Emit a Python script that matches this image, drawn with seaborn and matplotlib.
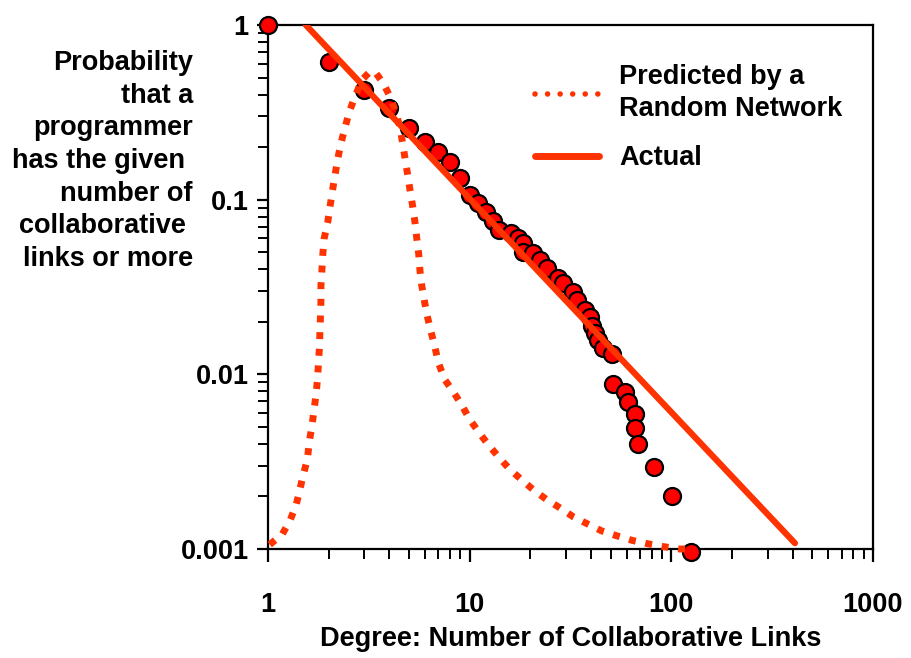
import numpy as np
import pandas as pd
import matplotlib
matplotlib.use("Agg")
import matplotlib.pyplot as plt
from matplotlib.lines import Line2D
import seaborn as sns

# ---- data ----
degree = [1, 2, 3, 4, 5, 6, 7, 8, 9, 10, 11, 12, 13, 14, 16, 17.4, 18.4, 18.4,
          20.7, 22.3, 24.1, 27.5, 29.1, 32.6, 33.9, 37.3, 39.5, 40.3, 41.8, 43.4,
          45.9, 50.6, 51.5, 59, 61, 66, 66, 68, 82, 101, 125]
prob = [1.0, 0.614, 0.425, 0.333, 0.256, 0.215, 0.188, 0.164, 0.133, 0.106,
        0.0954, 0.0854, 0.0759, 0.067, 0.0642, 0.0604, 0.0565, 0.0504, 0.0493,
        0.0452, 0.0405, 0.0355, 0.0332, 0.0297, 0.0267, 0.0234, 0.0214, 0.0188,
        0.0172, 0.0157, 0.0141, 0.0131, 0.0088, 0.00796, 0.0069, 0.00593, 0.0049,
        0.004, 0.00296, 0.002, 0.00096]

pred_x = [1.02, 1.18, 1.29, 1.38, 1.44, 1.50, 1.57, 1.60, 1.65, 1.69, 1.73, 1.76,
          1.78, 1.80, 1.81, 1.82, 1.83, 1.83, 1.85, 1.87, 1.90, 1.98, 2.03, 2.09,
          2.15, 2.22, 2.30, 2.41, 2.53, 2.70, 2.92, 3.20, 3.39, 3.73, 4.03, 4.26,
          4.51, 4.65, 4.78, 4.93, 5.06, 5.22, 5.36, 5.46, 5.59, 5.67, 5.78, 5.96,
          6.16, 6.43, 6.73, 6.99, 7.54, 8.29, 9.13, 10.0, 11.1, 12.4, 14.0, 15.8,
          18.1, 20.7, 23.9, 27.8, 32.6, 38.5, 45.1, 53.6, 64.0, 76.8, 92.2, 110, 131]
pred_y = [0.00106, 0.00122, 0.00147, 0.00179, 0.0022, 0.00269, 0.00329, 0.00408,
          0.00502, 0.0062, 0.00765, 0.0094, 0.01167, 0.0144, 0.0178, 0.0214,
          0.0261, 0.0321, 0.0392, 0.0487, 0.0601, 0.0748, 0.0912, 0.1136, 0.1384,
          0.1726, 0.2103, 0.2584, 0.319, 0.3887, 0.4843, 0.54, 0.54, 0.4637,
          0.3887, 0.3262, 0.2618, 0.2103, 0.1726, 0.1384, 0.1136, 0.0912, 0.0738,
          0.0608, 0.0487, 0.0392, 0.0325, 0.0264, 0.0216, 0.01755, 0.01429,
          0.01167, 0.00929, 0.00796, 0.00668, 0.00553, 0.00466, 0.00394, 0.00334,
          0.00286, 0.00249, 0.00218, 0.00193, 0.00173, 0.00153, 0.00139, 0.00127,
          0.00119, 0.00112, 0.00107, 0.00103, 0.0010, 0.0010]

actual_x = [1.54, 410]
actual_y = [1.0, 0.00108]

x_ticks = [1, 10, 100, 1000]
x_ticklabels = ["1", "10", "100", "1000"]
y_ticks = [0.001, 0.01, 0.1, 1]
y_ticklabels = ["0.001", "0.01", "0.1", "1"]

legend_labels = ["Predicted by a\nRandom Network", "Actual"]
x_label = "Degree: Number of Collaborative Links"
y_label = ("Probability\nthat a\nprogrammer\nhas the given \nnumber of\n"
           "collaborative \nlinks or more")

# ---- styling ----
sns.set_style("white")
plt.rcParams['font.family'] = ['Liberation Sans', 'DejaVu Sans']
plt.rcParams['font.weight'] = 'bold'
for k in ['text.color', 'axes.labelcolor', 'xtick.color', 'ytick.color']:
    plt.rcParams[k] = 'black'
FS = 19.5
LINE_C = "#FF3300"
DOT_C = "#FF0000"

fig = plt.figure(figsize=(9.11, 6.58), dpi=100)
ax = fig.add_axes([268/911, 1-549/658, (873-268)/911, (549-25)/658])
ax.set_xscale("log")
ax.set_yscale("log")

df_pts = pd.DataFrame({"x": degree, "y": prob})
df_pred = pd.DataFrame({"x": pred_x, "y": pred_y})
df_act = pd.DataFrame({"x": actual_x, "y": actual_y})

sns.scatterplot(data=df_pts, x="x", y="y", ax=ax, s=150, color=DOT_C,
                edgecolor="black", linewidth=1.6, zorder=3, clip_on=False,
                legend=False)
sns.lineplot(data=df_pred, x="x", y="y", ax=ax, sort=False, estimator=None,
             color=LINE_C, linewidth=5, linestyle=(0, (1.0, 1.4)),
             zorder=4, legend=False)
ax.lines[-1].set_dash_capstyle("butt")
ax.lines[-1].set_clip_on(False)
sns.lineplot(data=df_act, x="x", y="y", ax=ax, sort=False, estimator=None,
             color=LINE_C, linewidth=4.5, zorder=4, legend=False)

ax.set_xlim(1, 1000)
ax.set_ylim(0.001, 1)

ax.set_xticks(x_ticks)
ax.set_xticklabels(x_ticklabels, fontsize=FS, fontweight="bold")
ax.set_yticks(y_ticks)
ax.set_yticklabels(y_ticklabels, fontsize=FS, fontweight="bold")
ax.xaxis.set_minor_locator(matplotlib.ticker.LogLocator(base=10, subs=np.arange(2, 10)))
ax.yaxis.set_minor_locator(matplotlib.ticker.LogLocator(base=10, subs=np.arange(2, 10)))
ax.xaxis.set_minor_formatter(matplotlib.ticker.NullFormatter())
ax.yaxis.set_minor_formatter(matplotlib.ticker.NullFormatter())

ax.tick_params(axis="x", which="major", direction="out", length=9, width=1.6,
               pad=22, bottom=True, top=False, colors="black")
ax.tick_params(axis="x", which="minor", direction="out", length=7, width=1.4,
               bottom=True, top=False)
ax.tick_params(axis="y", which="major", direction="out", length=8, width=1.6,
               pad=6, left=True, right=False)
ax.tick_params(axis="y", which="minor", direction="out", length=7, width=1.4,
               left=True, right=False)

for sp in ax.spines.values():
    sp.set_visible(True)
    sp.set_color("black")
    sp.set_linewidth(1.6)

ax.set_xlabel(x_label, fontsize=FS, fontweight="bold", labelpad=6)
ax.set_ylabel("")
fig.text(193/911, 1-161/658, y_label, fontsize=FS, fontweight="bold",
         ha="right", va="center", multialignment="right", linespacing=1.33)

handles = [Line2D([], [], color=LINE_C, linewidth=4, linestyle=(0, (0.01, 2.25)),
                  dash_capstyle="round"),
           Line2D([], [], color=LINE_C, linewidth=5)]
leg = ax.legend(handles, legend_labels, loc="upper left",
                bbox_to_anchor=((535-268)/605, 1-(64-25)/524),
                frameon=False, fontsize=FS, handlelength=2.35,
                handletextpad=0.75, labelspacing=0.85, borderaxespad=0,
                borderpad=0)
for t in leg.get_texts():
    t.set_fontweight("bold")
    t.set_linespacing(1.3)

fig.savefig("out.png", dpi=100)
